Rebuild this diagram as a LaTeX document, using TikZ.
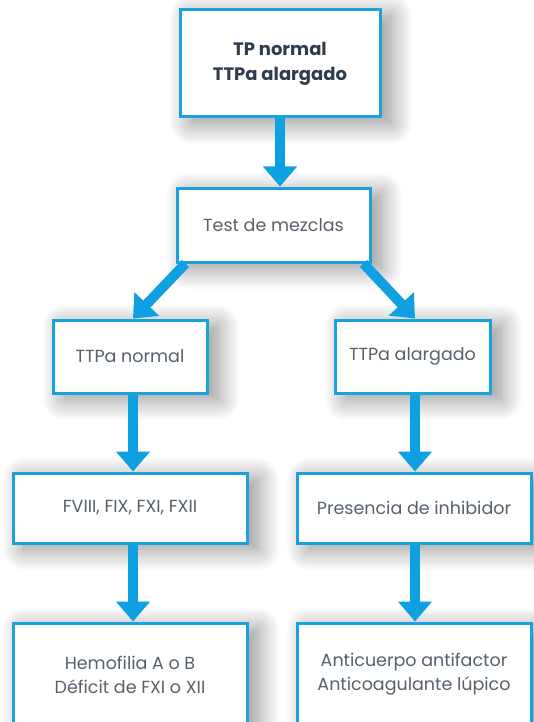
\documentclass[tikz,border=0pt]{standalone}
\usepackage{fontspec}
\setmainfont{Poppins}
\usepackage{tikz}
\usetikzlibrary{positioning}
\usetikzlibrary{arrows.meta}
\usetikzlibrary{shadows.blur}

\definecolor{boxblue}{HTML}{1BA2DE}
\definecolor{arrowblue}{HTML}{0FA0E2}
\definecolor{textgray}{HTML}{56616C}
\definecolor{titlegray}{HTML}{2F3D4D}

\begin{document}
\begin{tikzpicture}[
        x=1pt, y=-1pt,
        box/.style={rectangle, draw=boxblue, fill=white, line width=3pt,
            align=center, text=textgray, inner sep=4pt,
            font=\fontsize{17.5}{24}\selectfont,
            blur shadow={shadow xshift=11pt, shadow yshift=-6pt,
                shadow blur radius=22pt, shadow blur steps=20, shadow opacity=45}},
        title/.style={box, text=titlegray, font=\fontsize{18}{25}\selectfont\bfseries},
        flow/.style={draw=arrowblue, line width=10pt,
            -{Triangle[width=33pt, length=20pt]}}
    ]
        \useasboundingbox (0,0) rectangle (533,722);

        \node[title, minimum width=200pt, minimum height=107pt](top) at (280,63.5)
            {TP normal\\TTPa alargado};
            \node[box, minimum width=193pt, minimum height=74pt](mezcla) at (273.5,225)
                {Test de mezclas};
                \node[box, minimum width=154pt, minimum height=73pt](ttpn) at (130,356.5)
                    {TTPa normal};
                    \node[box, minimum width=234pt, minimum height=70pt](fact)[below=77pt of ttpn]
                        {FVIII, FIX, FXI, FXII};
                        \node[box, minimum width=234pt, minimum height=103pt](hemo)[below=77pt of fact]
                            {Hemofilia A o B\\D\'eficit de FXI o XII};
                \node[box, minimum width=155pt, minimum height=73pt](ttpa) at (412.5,356.5)
                    {TTPa alargado};
                    \node[box, minimum width=234pt, minimum height=70pt](inhib)[below=77pt of ttpa, xshift=1.5pt]
                        {Presencia de inhibidor};
                        \node[box, minimum width=234pt, minimum height=103pt](anti)[below=77pt of inhib]
                            {Anticuerpo antifactor\\Anticoagulante l\'upico};

        \draw[flow] (top.south) -- ([xshift=6.5pt]mezcla.north);
        \draw[flow] ([xshift=10pt]mezcla.south west) -- ([xshift=3pt]ttpn.north);
        \draw[flow] ([xshift=-8pt]mezcla.south east) -- ([xshift=2.5pt]ttpa.north);
        \draw[flow] ([xshift=3pt]ttpn.south) -- ([xshift=3pt]fact.north);
        \draw[flow] ([xshift=3pt]fact.south) -- ([xshift=3pt]hemo.north);
        \draw[flow] ([xshift=2.5pt]ttpa.south) -- ([xshift=1pt]inhib.north);
        \draw[flow] ([xshift=1pt]inhib.south) -- ([xshift=1pt]anti.north);
    \end{tikzpicture}
\end{document}
